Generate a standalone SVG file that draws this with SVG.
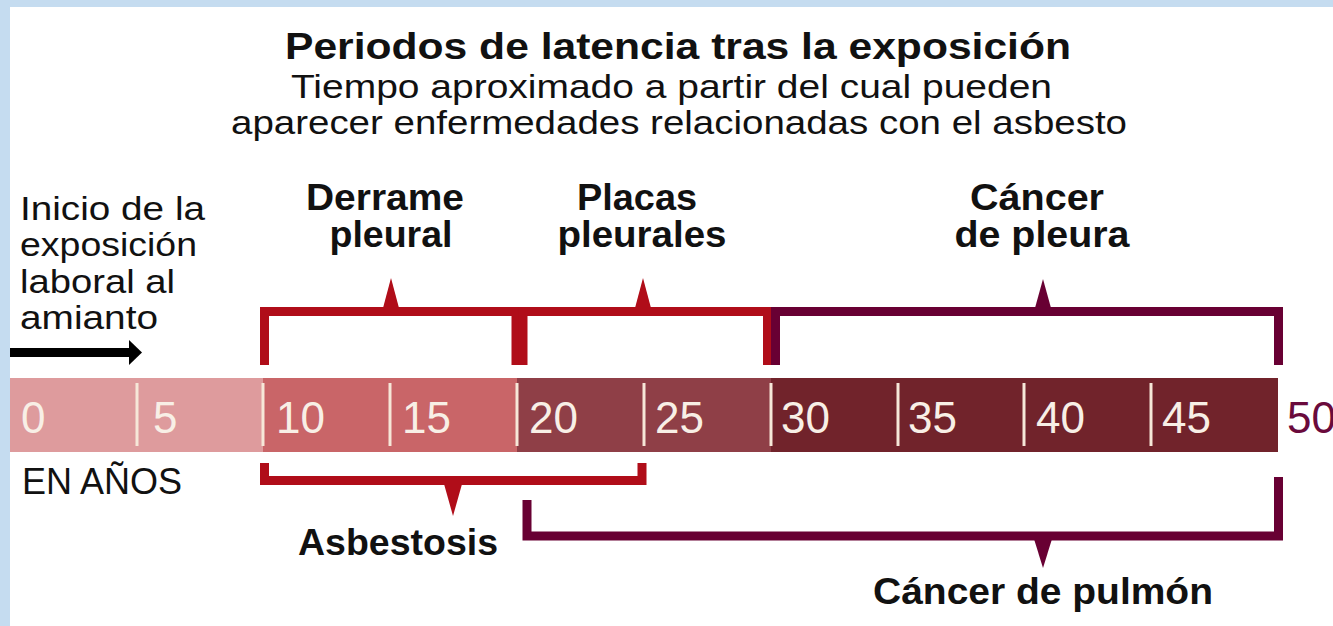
<svg xmlns="http://www.w3.org/2000/svg" width="1333" height="626" viewBox="0 0 1333 626">
  <style>
    text { font-family: "Liberation Sans", Arial, Helvetica, sans-serif; fill: #111; }
    .title { font-size: 36px; font-weight: bold; }
    .sub { font-size: 33px; }
    .lbl { font-size: 36px; font-weight: bold; text-anchor: middle; }
    .left { font-size: 34px; }
    .num { font-size: 44px; fill: #f8efe6; }
    .tick { stroke: #f6e7d8; stroke-width: 3; }
    .br-red { fill: none; stroke: #b00d19; stroke-width: 9; stroke-linejoin: miter; stroke-linecap: butt; }
    .br-pur { fill: none; stroke: #680033; stroke-width: 9; stroke-linejoin: miter; stroke-linecap: butt; }
    .pt-red { fill: #b00d19; }
    .pt-pur { fill: #680033; }
  </style>
  <rect x="0" y="0" width="1333" height="626" fill="#ffffff"/>
  <rect x="0" y="0" width="1333" height="7" fill="#c5dcf0"/>
  <rect x="0" y="0" width="10" height="626" fill="#c5dcf0"/>

  <g id="title">
    <text class="title" x="285" y="59" textLength="786" lengthAdjust="spacingAndGlyphs">Periodos de latencia tras la exposición</text>
    <text class="sub" x="291" y="98" textLength="761" lengthAdjust="spacingAndGlyphs">Tiempo aproximado a partir del cual pueden</text>
    <text class="sub" x="231" y="134" textLength="896" lengthAdjust="spacingAndGlyphs">aparecer enfermedades relacionadas con el asbesto</text>
  </g>

  <g id="inicio">
    <text class="left" x="20" y="220" textLength="185" lengthAdjust="spacingAndGlyphs">Inicio de la</text>
    <text class="left" x="20" y="256" textLength="177" lengthAdjust="spacingAndGlyphs">exposición</text>
    <text class="left" x="20" y="293" textLength="155" lengthAdjust="spacingAndGlyphs">laboral al</text>
    <text class="left" x="20" y="329" textLength="138" lengthAdjust="spacingAndGlyphs">amianto</text>
    <rect x="10" y="348" width="121" height="9" fill="#000"/>
    <polygon points="129,340 142,352.5 129,365" fill="#000"/>
  </g>

  <g id="timeline">
    <rect x="10" y="378" width="253" height="74" fill="#de9b9d"/>
    <rect x="263" y="378" width="254" height="74" fill="#c96568"/>
    <rect x="517" y="378" width="254" height="74" fill="#8f3f47"/>
    <rect x="771" y="378" width="507" height="74" fill="#71232b"/>
    <line class="tick" x1="137" y1="383" x2="137" y2="446"/>
    <line class="tick" x1="263" y1="383" x2="263" y2="446"/>
    <line class="tick" x1="390" y1="383" x2="390" y2="446"/>
    <line class="tick" x1="517" y1="383" x2="517" y2="446"/>
    <line class="tick" x1="644" y1="383" x2="644" y2="446"/>
    <line class="tick" x1="771" y1="383" x2="771" y2="446"/>
    <line class="tick" x1="898" y1="383" x2="898" y2="446"/>
    <line class="tick" x1="1024" y1="383" x2="1024" y2="446"/>
    <line class="tick" x1="1151" y1="383" x2="1151" y2="446"/>
    <text class="num" x="21" y="433">0</text>
    <text class="num" x="153" y="433">5</text>
    <text class="num" x="276" y="433">10</text>
    <text class="num" x="402" y="433">15</text>
    <text class="num" x="529" y="433">20</text>
    <text class="num" x="655" y="433">25</text>
    <text class="num" x="781" y="433">30</text>
    <text class="num" x="908" y="433">35</text>
    <text class="num" x="1036" y="433">40</text>
    <text class="num" x="1162" y="433">45</text>
    <text class="num" x="1287" y="433" style="fill:#6a0a3c">50</text>
    <text x="22" y="494" style="font-size:36px">EN AÑOS</text>
  </g>

  <g id="connectors">
    <path class="br-red" d="M264.5,365 V311.5 H516 V365"/>
    <polygon class="pt-red" points="383,308 391,278 399,308"/>
    <path class="br-red" d="M523,365 V311.5 H767.5 V365"/>
    <polygon class="pt-red" points="635,308 643,278 651,308"/>
    <path class="br-pur" d="M775.5,365 V311.5 H1278.5 V365"/>
    <polygon class="pt-pur" points="1035,308 1043,279 1051,308"/>
    <path class="br-red" d="M264.5,463 V480.5 H642 V463"/>
    <polygon class="pt-red" points="444,484 462,484 453,516"/>
    <path class="br-pur" d="M527,500 V536 H1278.5 V477"/>
    <polygon class="pt-pur" points="1034,539 1052,539 1043,568"/>
  </g>

  <g id="derrame">
    <text class="lbl" x="385" y="210" textLength="158" lengthAdjust="spacingAndGlyphs">Derrame</text>
    <text class="lbl" x="391" y="247" textLength="123" lengthAdjust="spacingAndGlyphs">pleural</text>
  </g>
  <g id="placas">
    <text class="lbl" x="637" y="210" textLength="120" lengthAdjust="spacingAndGlyphs">Placas</text>
    <text class="lbl" x="642" y="247" textLength="169" lengthAdjust="spacingAndGlyphs">pleurales</text>
  </g>
  <g id="cancer-pleura">
    <text class="lbl" x="1037" y="210" textLength="134" lengthAdjust="spacingAndGlyphs">Cáncer</text>
    <text class="lbl" x="1042" y="247" textLength="175" lengthAdjust="spacingAndGlyphs">de pleura</text>
  </g>
  <g id="asbestosis">
    <text class="lbl" x="398" y="555" textLength="200" lengthAdjust="spacingAndGlyphs">Asbestosis</text>
  </g>
  <g id="cancer-pulmon">
    <text class="lbl" x="1043" y="604" textLength="340" lengthAdjust="spacingAndGlyphs">Cáncer de pulmón</text>
  </g>
</svg>
